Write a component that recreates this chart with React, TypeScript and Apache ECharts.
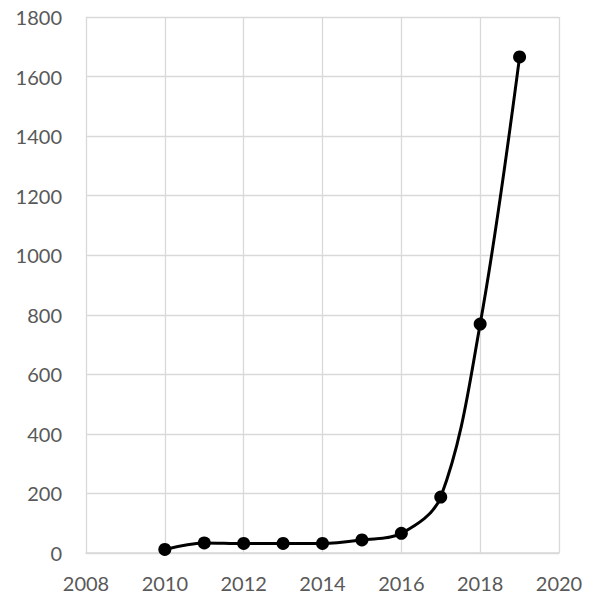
import React, { useEffect, useRef } from "react";
import * as echarts from "echarts";

const years = [2010, 2011, 2012, 2013, 2014, 2015, 2016, 2017, 2018, 2019];
const values = [12, 34, 32, 32, 32, 44, 66, 188, 769, 1666];
const xTicks = { min: 2008, max: 2020, interval: 2 };
const yTicks = { min: 0, max: 1800, interval: 200 };

export default function App() {
  const ref = useRef<HTMLDivElement>(null);
  useEffect(() => {
    const chart = echarts.init(ref.current!, null, { renderer: "svg" });
    const font = "Lato, 'Open Sans', sans-serif";
    chart.setOption({
      animation: false,
      backgroundColor: "#ffffff",
      grid: { left: 86, right: 37, top: 17, bottom: 43, containLabel: false },
      xAxis: {
        type: "value",
        min: xTicks.min,
        max: xTicks.max,
        interval: xTicks.interval,
        axisLine: { show: true, lineStyle: { color: "#d9d9d9", width: 1.5 } },
        axisTick: { show: false },
        splitLine: { show: true, lineStyle: { color: "#d9d9d9", width: 1.3 } },
        axisLabel: {
          color: "#595959",
          fontSize: 20,
          fontFamily: font,
          margin: 20,
          formatter: (v: number) => String(v),
        },
      },
      yAxis: {
        type: "value",
        min: yTicks.min,
        max: yTicks.max,
        interval: yTicks.interval,
        axisLine: { show: false },
        axisTick: { show: false },
        splitLine: { show: true, lineStyle: { color: "#d9d9d9", width: 1.3 } },
        axisLabel: {
          color: "#595959",
          fontSize: 20,
          fontFamily: font,
          margin: 24,
          formatter: (v: number) => String(v),
        },
      },
      series: [
        {
          type: "line",
          data: years.map((y, i) => [y, values[i]]),
          smooth: 0.35,
          symbol: "circle",
          symbolSize: 13,
          lineStyle: { color: "#000000", width: 3 },
          itemStyle: { color: "#000000" },
        },
      ],
    });
    return () => chart.dispose();
  }, []);
  return (
    <div
      ref={ref}
      style={{ position: "fixed", left: 0, top: 0, width: 596, height: 596 }}
    />
  );
}
